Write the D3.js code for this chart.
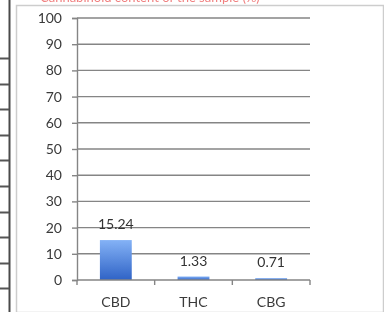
<!DOCTYPE html>
<html>
<head>
<meta charset="utf-8">
<script src="https://cdn.jsdelivr.net/npm/d3@7"></script>
<style>
  html, body { margin: 0; padding: 0; background: #fff; }
  svg { display: block; font-family: Lato, "Open Sans", sans-serif; filter: blur(0.4px); }
</style>
</head>
<body>
<div id="chart"></div>
<script>
// values
const categories = ["CBD", "THC", "CBG"];
const values = [15.24, 1.33, 0.71];
const valueLabels = ["15.24", "1.33", "0.71"];
const yTicks = [0, 10, 20, 30, 40, 50, 60, 70, 80, 90, 100];

const width = 384;
const height = 312;

const svg = d3
  .select("#chart")
  .append("svg")
  .attr("width", width)
  .attr("height", height)
  .attr("viewBox", [0, 0, width, height]);

// cropped bits of the surrounding document
svg
  .append("text")
  .attr("x", 40)
  .attr("y", 1.5)
  .attr("fill", "#f08080")
  .style("font-size", "13px")
  .text("Cannabinoid content of the sample (%)");

svg
  .append("line")
  .attr("x1", 9.5)
  .attr("x2", 9.5)
  .attr("y1", 0)
  .attr("y2", height)
  .attr("stroke", "#4a4a4a")
  .attr("stroke-width", 2);

const rowLines = d3.range(10).map((i) => 58 + i * 25.6);
svg
  .selectAll("line.row")
  .data(rowLines)
  .join("line")
  .attr("class", "row")
  .attr("x1", 0)
  .attr("x2", 9)
  .attr("y1", (d) => Math.round(d) + 0.5)
  .attr("y2", (d) => Math.round(d) + 0.5)
  .attr("stroke", "#555")
  .attr("stroke-width", 2);

svg
  .append("rect")
  .attr("x", 16.5)
  .attr("y", 5.5)
  .attr("width", 367)
  .attr("height", 307)
  .attr("fill", "none")
  .attr("stroke", "#cdcdcd")
  .attr("stroke-width", 1.5);

// plot
const plot = { left: 77, right: 310, top: 18, bottom: 280 };

const x = d3
  .scaleBand()
  .domain(categories)
  .range([plot.left, plot.right])
  .padding(0);

const y = d3.scaleLinear().domain([0, 100]).range([plot.bottom, plot.top]);

const defs = svg.append("defs");
const grad = defs
  .append("linearGradient")
  .attr("id", "barGrad")
  .attr("x1", 0)
  .attr("x2", 0)
  .attr("y1", 0)
  .attr("y2", 1);
grad.append("stop").attr("offset", "0%").attr("stop-color", "#84b2f6");
grad.append("stop").attr("offset", "100%").attr("stop-color", "#2f63c6");

const axisColor = "#858585";

// gridlines
svg
  .append("g")
  .selectAll("line")
  .data(yTicks.filter((d) => d > 0))
  .join("line")
  .attr("x1", plot.left)
  .attr("x2", plot.right)
  .attr("y1", (d) => y(d))
  .attr("y2", (d) => y(d))
  .attr("stroke", axisColor)
  .attr("stroke-width", 1.4);

// y axis
svg
  .append("g")
  .attr("transform", `translate(${plot.left},0)`)
  .call(d3.axisLeft(y).tickValues(yTicks).tickSize(5).tickPadding(10))
  .call((g) => g.select(".domain").attr("stroke", axisColor).attr("stroke-width", 1.4))
  .call((g) => g.selectAll(".tick line").attr("stroke", axisColor).attr("stroke-width", 1.4))
  .call((g) =>
    g
      .selectAll("text")
      .attr("fill", "#3a3a3a")
      .style("font-size", "14px")
      .style("font-family", "Lato, sans-serif")
  );

// bars
const barW = x.bandwidth() * 0.41;
svg
  .append("g")
  .selectAll("rect")
  .data(values)
  .join("rect")
  .attr("x", (d, i) => x(categories[i]) + (x.bandwidth() - barW) / 2)
  .attr("y", (d) => y(d))
  .attr("width", barW)
  .attr("height", (d) => y(0) - y(d))
  .attr("fill", "url(#barGrad)");

// x axis
svg
  .append("g")
  .attr("transform", `translate(0,${plot.bottom})`)
  .call(d3.axisBottom(x).tickSize(0).tickPadding(17))
  .call((g) => g.select(".domain").remove())
  .call((g) =>
    g
      .selectAll("text")
      .attr("fill", "#3a3a3a")
      .style("font-size", "14px")
      .style("font-family", "Lato, sans-serif")
  );

svg
  .append("line")
  .attr("x1", plot.left)
  .attr("x2", plot.right)
  .attr("y1", y(0))
  .attr("y2", y(0))
  .attr("stroke", axisColor)
  .attr("stroke-width", 1.4);

const boundaries = categories.map((c) => x(c)).concat([x(categories[categories.length - 1]) + x.bandwidth()]);
svg
  .append("g")
  .selectAll("line")
  .data(boundaries)
  .join("line")
  .attr("x1", (d) => d)
  .attr("x2", (d) => d)
  .attr("y1", y(0))
  .attr("y2", y(0) + 5)
  .attr("stroke", axisColor)
  .attr("stroke-width", 1.4);

// value labels
svg
  .append("g")
  .selectAll("text")
  .data(values)
  .join("text")
  .attr("x", (d, i) => x(categories[i]) + x.bandwidth() / 2)
  .attr("y", (d) => y(d) - 11)
  .attr("text-anchor", "middle")
  .attr("fill", "#333")
  .style("font-size", "14px")
  .text((d, i) => valueLabels[i]);
</script>
</body>
</html>
